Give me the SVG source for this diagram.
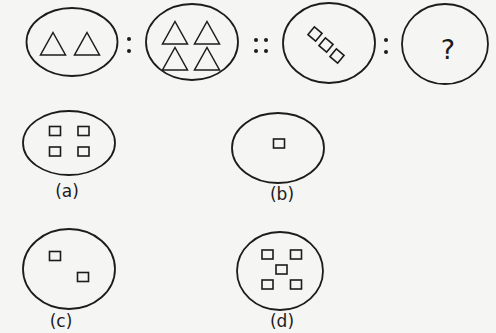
<svg xmlns="http://www.w3.org/2000/svg" width="496" height="333" viewBox="0 0 496 333">
<style>
.o{fill:none;stroke:#1c1c1c;stroke-width:1.8}
.s{fill:none;stroke:#1c1c1c;stroke-width:1.6}
.t{fill:none;stroke:#1c1c1c;stroke-width:1.5;stroke-linejoin:miter}
.d{fill:#1c1c1c}
.l{font-family:"DejaVu Sans",sans-serif;font-size:17px;fill:#1c1c1c;text-anchor:middle}
</style>
<defs>
<polygon id="tri" class="t" points="0,-11.5 12.5,11 -12.5,11"/>
<rect id="sq" class="s" x="-5.5" y="-4.5" width="11" height="9"/>
<rect id="dsq" class="s" x="-5" y="-5" width="10" height="10"/>
</defs>
<rect width="496" height="333" fill="#f5f5f3"/>

<g id="fig1">
<ellipse class="o" cx="72" cy="42" rx="45.5" ry="34"/>
<use href="#tri" x="53" y="44"/>
<use href="#tri" x="87" y="44"/>
</g>

<g id="sep1"><circle class="d" cx="129" cy="39" r="2"/><circle class="d" cx="129" cy="51" r="2"/></g>

<g id="fig2">
<ellipse class="o" cx="192" cy="42" rx="46" ry="38"/>
<use href="#tri" x="175" y="33"/>
<use href="#tri" x="207" y="33"/>
<use href="#tri" x="175" y="59"/>
<use href="#tri" x="207" y="59"/>
</g>

<g id="sep2">
<circle class="d" cx="256" cy="40" r="2"/><circle class="d" cx="256" cy="51" r="2"/>
<circle class="d" cx="266" cy="40" r="2"/><circle class="d" cx="266" cy="51" r="2"/>
</g>

<g id="fig3">
<ellipse class="o" cx="329" cy="43" rx="46" ry="40"/>
<use href="#dsq" transform="translate(315,34) rotate(40)"/>
<use href="#dsq" transform="translate(326,45) rotate(40)"/>
<use href="#dsq" transform="translate(337,56) rotate(40)"/>
</g>

<g id="sep3"><circle class="d" cx="386" cy="40" r="2"/><circle class="d" cx="386" cy="52" r="2"/></g>

<g id="fig4">
<ellipse class="o" cx="445" cy="44" rx="43" ry="40"/>
<text x="448" y="59" font-family="DejaVu Sans, sans-serif" font-size="27" fill="#1c1c1c" text-anchor="middle">?</text>
</g>

<g id="optA">
<ellipse class="o" cx="69" cy="143" rx="46" ry="32"/>
<use href="#sq" x="55" y="131"/>
<use href="#sq" x="83.5" y="131"/>
<use href="#sq" x="55" y="151.5"/>
<use href="#sq" x="83.5" y="151.5"/>
<text class="l" x="67" y="197">(a)</text>
</g>

<g id="optB">
<ellipse class="o" cx="278" cy="148" rx="46" ry="35"/>
<use href="#sq" x="279" y="143.5"/>
<text class="l" x="282" y="200">(b)</text>
</g>

<g id="optC">
<ellipse class="o" cx="69" cy="269" rx="46" ry="40"/>
<use href="#sq" x="55" y="256"/>
<use href="#sq" x="83" y="277"/>
<text class="l" x="61" y="327">(c)</text>
</g>

<g id="optD">
<ellipse class="o" cx="280" cy="271" rx="43" ry="39"/>
<use href="#sq" x="267.5" y="254.5"/>
<use href="#sq" x="296" y="254.5"/>
<use href="#sq" x="281.5" y="269.5"/>
<use href="#sq" x="267.5" y="284.5"/>
<use href="#sq" x="296" y="284.5"/>
<text class="l" x="282" y="327">(d)</text>
</g>
</svg>
